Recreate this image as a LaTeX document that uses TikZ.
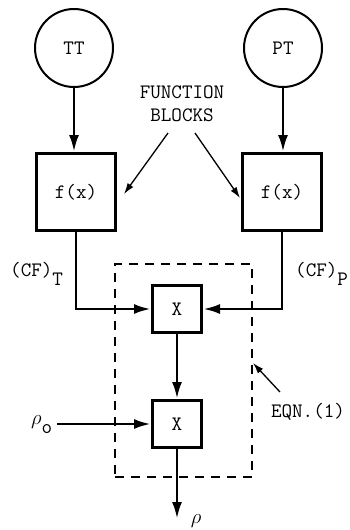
\documentclass[tikz,border=0pt]{standalone}
\usetikzlibrary{arrows.meta}
\tikzset{
  txt/.style={font=\fontsize{20.5}{23}\selectfont\ttfamily, inner sep=0pt},
  sensor/.style={draw, circle, line width=2pt, minimum size=78pt, inner sep=0pt, txt},
  fblock/.style={draw, rectangle, line width=3pt, minimum width=79pt, minimum height=77pt, txt},
  mult/.style={draw, rectangle, line width=3pt, minimum width=49pt, minimum height=47pt, txt},
  flow/.style={line width=2.8pt, -{Latex[length=17pt,width=10pt]}},
  pointer/.style={line width=1.3pt, -{Latex[length=11pt,width=7pt]}},
}
\begin{document}
\begin{tikzpicture}[x=1pt,y=-1pt]
\useasboundingbox (0,0) rectangle (350,530);
\node[sensor] (TT) at (74,48) {TT};
\node[sensor] (PT) at (283,48) {PT};
\node[fblock] (F1) at (76,192) {f(x)};
\node[fblock] (F2) at (282,192) {f(x)};
\node[mult] (X1) at (177,309) {X};
\node[mult] (X2) at (177,424) {X};
\node[draw, dashed, dash pattern=on 9pt off 7pt, line width=1.4pt, minimum width=137pt, minimum height=213pt, inner sep=0pt] (EQ) at (183.5,370.5) {};
\node[txt, align=center] (FB) at (182,104) {FUNCTION\\BLOCKS};
\node[txt, anchor=west] (CFT) at (10,274) {(CF)\raisebox{-9pt}{T}};
\node[txt, anchor=west] (CFP) at (295,274) {(CF)\raisebox{-9pt}{P}};
\node[txt, anchor=west] (RO) at (31,425) {$\rho$\raisebox{-9pt}{o}};
\node[txt] (R) at (196,521) {$\rho$};
\node[txt] (EQN) at (308,412) {EQN.(1)};
\coordinate (FBl) at (168,133);
\coordinate (FBr) at (195,133);
\coordinate (F1p) at (124,194);
\coordinate (F2p) at (240,198);
\coordinate (EQs) at (280,392);
\coordinate (EQp) at (253,363);
\coordinate (ROs) at (57,424);
\coordinate (OUT) at (177,519);
\draw[flow] (TT.south) -- (TT.south |- F1.north);
\draw[flow] (PT.south) -- (PT.south |- F2.north);
\draw[pointer] (FBl) -- (F1p);
\draw[pointer] (FBr) -- (F2p);
\draw[flow] (F1.south) |- (X1.west);
\draw[flow] (F2.south) |- (X1.east);
\draw[flow] (X1.south) -- (X2.north);
\draw[flow] (ROs) -- (X2.west);
\draw[flow] (X2.south) -- (OUT);
\draw[pointer] (EQs) -- (EQp);
\end{tikzpicture}
\end{document}
